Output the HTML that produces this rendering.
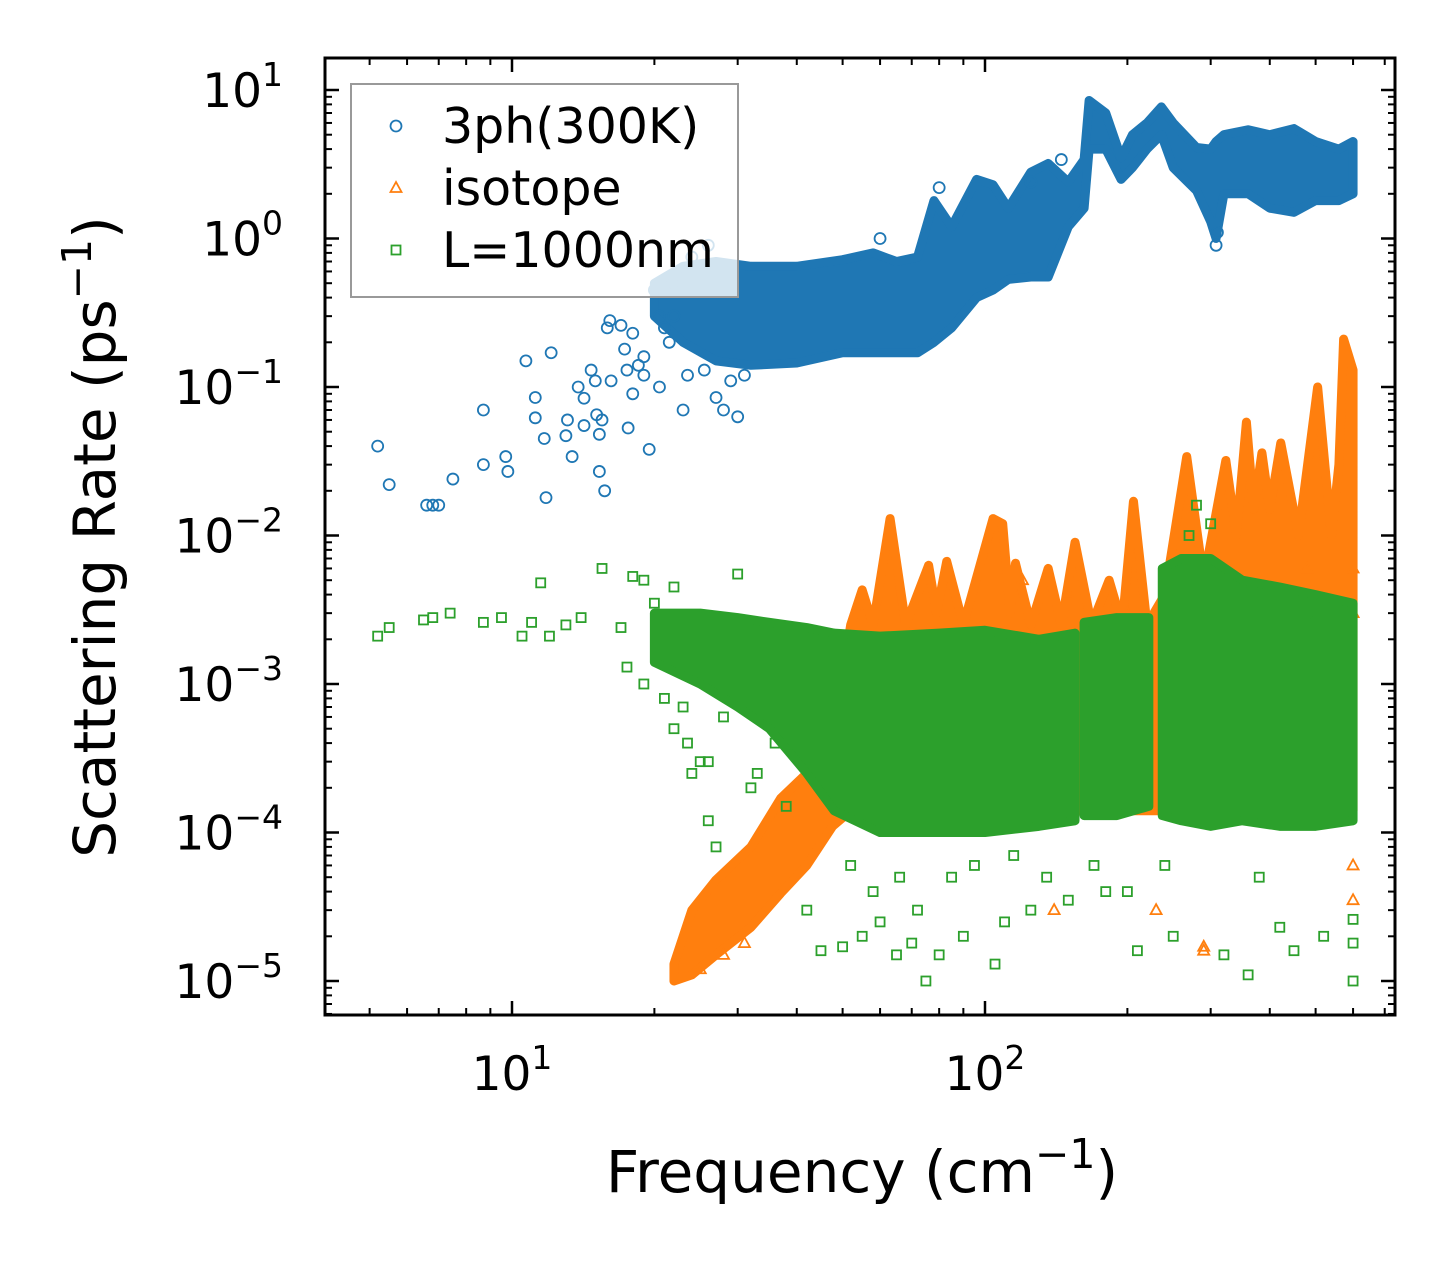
<!DOCTYPE html>
<html><head><meta charset="utf-8"><style>
body{margin:0;background:#fff}
svg text{font-family:"DejaVu Sans","Liberation Sans",sans-serif;fill:#000}
</style></head><body>
<svg id="chart" width="1455" height="1265" viewBox="0 0 1455 1265">
<rect width="1455" height="1265" fill="#fff"/>
<g id="marks"></g>
<g id="axes"></g>
<g id="legend"></g>
</svg>
<script>
// ---------- data ----------
const blueEnvFreq=[20,23,27,32,40,50,58,65,72,78,85,96,104,112,125,136,150,162,166,180,194,205,220,236,250,280,300,308,320,360,400,450,500,560,600];
const blueEnvLo=[0.3,0.2,0.15,0.14,0.145,0.17,0.17,0.17,0.17,0.2,0.25,0.4,0.45,0.53,0.55,0.55,1.2,1.6,4,4,2.5,3,4,5,3,2.1,1.3,1,2,2,1.6,1.5,1.8,1.8,2];
const blueEnvHi=[0.5,0.65,0.7,0.65,0.65,0.72,0.8,0.7,0.75,1.8,1.2,2.5,2.3,1.6,2.8,3.2,2.4,3.4,8.5,7,3.5,5,6,7.7,6,4.1,4,4.5,5,5.4,5,5.5,4.5,4,4.5];
const blueFreq=[5.2,5.5,6.6,6.8,7,7.5,8.7,8.7,9.7,9.8,10.7,11.2,11.2,11.7,11.8,12.1,13,13.1,13.4,13.8,14.2,14.2,14.7,15,15.1,15.3,15.3,15.5,15.7,15.9,16.1,16.2,17,17.3,17.6,18,18,19,19.5,20,20.5,21,22,23,27,28,30,22,24,26,19,18.5,21.5,23.5,25.5,29,31,20.5,17.5,308,310,60,80,125,145];
const blueRate=[0.04,0.022,0.016,0.016,0.016,0.024,0.07,0.03,0.034,0.027,0.15,0.085,0.062,0.045,0.018,0.17,0.047,0.06,0.034,0.1,0.084,0.055,0.13,0.11,0.065,0.048,0.027,0.06,0.02,0.25,0.28,0.11,0.26,0.18,0.053,0.23,0.09,0.12,0.038,0.45,0.1,0.25,0.3,0.07,0.085,0.07,0.063,0.5,0.75,0.9,0.16,0.14,0.2,0.12,0.13,0.11,0.12,0.3,0.13,0.9,1.1,1.0,2.2,2.4,3.4];
const orangeEnvFreq=[22,24,27,32,37,42,47.6,52,55,58,63,68,76,79,83,90,104,109,113,116,125,136,145,155,168,183,195,206,220,240,267,290,323,340,357,370,385,400,422,460,505,540,560,573,600];
const orangeEnvLo=[1e-5,1.1e-5,1.5e-5,2.3e-5,3.9e-5,6e-5,1.1e-4,1.4e-4,1.4e-4,1.4e-4,1.4e-4,1.4e-4,1.4e-4,1.4e-4,1.4e-4,1.4e-4,1.4e-4,1.4e-4,1.4e-4,1.4e-4,1.4e-4,1.4e-4,1.4e-4,1.4e-4,1.4e-4,1.4e-4,1.4e-4,1.4e-4,1.4e-4,1.4e-4,1.4e-4,1.4e-4,1.4e-4,1.4e-4,1.4e-4,1.4e-4,1.4e-4,1.4e-4,1.4e-4,1.4e-4,1.4e-4,1.4e-4,1.4e-4,1.4e-4,1.4e-4];
const orangeEnvHi=[1.3e-5,3e-5,4.8e-5,8e-5,1.7e-4,2.5e-4,4e-4,2.5e-3,4.3e-3,2.5e-3,1.3e-2,2.5e-3,6.3e-3,3e-3,6.7e-3,2.5e-3,1.3e-2,1.2e-2,3e-3,6.5e-3,2.5e-3,6e-3,2.5e-3,9e-3,2.5e-3,5e-3,2.5e-3,1.7e-2,2.5e-3,4e-3,3.4e-2,5e-3,3.2e-2,1e-2,5.8e-2,1.5e-2,3.6e-2,1.5e-2,4.2e-2,1e-2,1e-1,1e-2,3e-2,2.1e-1,1.3e-1];
const orangeFreq=[60,66,75,86,120,150,200,290,480,600,600,600,25,28,31,110,140,230,290,600];
const orangeRate=[2e-3,1.1e-3,1.2e-3,2e-3,5e-3,4e-3,3e-3,1.7e-5,6e-3,3e-3,6e-3,3.5e-5,1.2e-5,1.5e-5,1.8e-5,3e-4,3e-5,3e-5,1.6e-5,6e-5];
const greenEnvSeg=[0,0,0,0,0,0,0,0,0,0,0,1,1,1,2,2,2,2,2,2,2];
const greenEnvFreq=[20,25,30,35,42,48,60,80,100,130,155,162,190,222,237,260,300,350,420,500,600];
const greenEnvLo=[1.4e-3,1e-3,7e-4,5e-4,2.5e-4,1.4e-4,1e-4,1e-4,1e-4,1.1e-4,1.2e-4,1.3e-4,1.3e-4,1.5e-4,1.3e-4,1.2e-4,1.1e-4,1.2e-4,1.1e-4,1.1e-4,1.2e-4];
const greenEnvHi=[3e-3,3e-3,2.8e-3,2.6e-3,2.4e-3,2.2e-3,2.1e-3,2.2e-3,2.3e-3,2e-3,2.2e-3,2.6e-3,2.8e-3,2.8e-3,6e-3,7e-3,7e-3,5e-3,4.5e-3,4e-3,3.5e-3];
const greenFreq=[5.2,5.5,6.5,6.8,7.4,8.7,9.5,10.5,11,11.5,12,13,14,15.5,17,17.5,18,19,20,22,23,24,25,26,27,30,32,36,42,45,50,55,60,65,70,75,80,90,105,110,125,150,180,210,250,320,360,420,450,520,600,600,600,280,270,300,500,21,22,19,23.5,26,28,33,38,52,58,66,72,85,95,115,135,170,200,240,380];
const greenRate=[2.1e-3,2.4e-3,2.7e-3,2.8e-3,3e-3,2.6e-3,2.8e-3,2.1e-3,2.6e-3,4.8e-3,2.1e-3,2.5e-3,2.8e-3,6e-3,2.4e-3,1.3e-3,5.3e-3,5e-3,3.5e-3,4.5e-3,7e-4,2.5e-4,3e-4,1.2e-4,8e-5,5.5e-3,2e-4,4e-4,3e-5,1.6e-5,1.7e-5,2e-5,2.5e-5,1.5e-5,1.8e-5,1e-5,1.5e-5,2e-5,1.3e-5,2.5e-5,3e-5,3.5e-5,4e-5,1.6e-5,2e-5,1.5e-5,1.1e-5,2.3e-5,1.6e-5,2e-5,1.8e-5,1e-5,2.6e-5,1.6e-2,1e-2,1.2e-2,3e-3,8e-4,5e-4,1e-3,4e-4,3e-4,6e-4,2.5e-4,1.5e-4,6e-5,4e-5,5e-5,3e-5,5e-5,6e-5,7e-5,5e-5,6e-5,4e-5,6e-5,5e-5];
const xTickVals=[10,100];
const xTickExp=["1","2"];
const yTickExps=[1,0,-1,-2,-3,-4,-5];

// ---------- scales ----------
const X0=325,X1=1395,Y0=58,Y1=1015;
const xs=v=>512+473*(Math.log10(v)-1);
const ys=v=>90+148.5*(1-Math.log10(v));
const NS="http://www.w3.org/2000/svg";
function mk(tag,attrs,parent){const e=document.createElementNS(NS,tag);for(const k in attrs)e.setAttribute(k,attrs[k]);parent.appendChild(e);return e;}
const marks=document.getElementById('marks');
const axes=document.getElementById('axes');
const legend=document.getElementById('legend');

const clip=mk('clipPath',{id:'pc'},document.getElementById('chart'));
mk('rect',{x:X0,y:Y0,width:X1-X0,height:Y1-Y0},clip);
marks.setAttribute('clip-path','url(#pc)');

function envelope(f,lo,hi,color,name){
  let pts=f.map((v,i)=>xs(v)+','+ys(hi[i]));
  for(let i=f.length-1;i>=0;i--)pts.push(xs(f[i])+','+ys(lo[i]));
  const p=mk('polygon',{points:pts.join(' '),fill:color,stroke:color,'stroke-width':9,'stroke-linejoin':'round'},marks);
  
  
}
function circle(x,y,c,parent){return mk('circle',{cx:x,cy:y,r:5.5,fill:'none',stroke:c,'stroke-width':1.8},parent);}
function tri(x,y,c,parent){return mk('polygon',{points:`${x},${y-6} ${x-5.5},${y+4} ${x+5.5},${y+4}`,fill:'none',stroke:c,'stroke-width':1.8},parent);}
function sq(x,y,c,parent){return mk('rect',{x:x-4.5,y:y-4.5,width:9,height:9,fill:'none',stroke:c,'stroke-width':1.8},parent);}

const BLUE='#1f77b4',OR='#ff7f0e',GR='#2ca02c';
envelope(blueEnvFreq,blueEnvLo,blueEnvHi,BLUE,'3ph-dense-cloud');
blueFreq.forEach((f,i)=>{const e=circle(xs(f),ys(blueRate[i]),BLUE,marks);

});
envelope(orangeEnvFreq,orangeEnvLo,orangeEnvHi,OR,'isotope-dense-cloud');
orangeFreq.forEach((f,i)=>{const e=tri(xs(f),ys(orangeRate[i]),OR,marks);

});
[0,1,2].forEach(s=>{
  const idx=greenEnvSeg.map((g,i)=>g===s?i:-1).filter(i=>i>=0);
  envelope(idx.map(i=>greenEnvFreq[i]),idx.map(i=>greenEnvLo[i]),idx.map(i=>greenEnvHi[i]),GR,'boundary-dense-cloud');
});
greenFreq.forEach((f,i)=>{const e=sq(xs(f),ys(greenRate[i]),GR,marks);

});

// ---------- axes ----------
const frame=mk('rect',{x:X0,y:Y0,width:X1-X0,height:Y1-Y0,fill:'none',stroke:'#000','stroke-width':3},axes);


function line(x1,y1,x2,y2,w){mk('line',{x1,y1,x2,y2,stroke:'#000','stroke-width':w},axes);}
for(let d=0;d<=3;d++){for(let m=1;m<=9;m++){const v=m*Math.pow(10,d);const x=xs(v);if(x<X0||x>X1)continue;
 const L=m===1?14:7,w=m===1?2.5:2;line(x,Y1,x,Y1-L,w);line(x,Y0,x,Y0+L,w);}}
xTickVals.forEach((v,i)=>{const t=mk('text',{x:xs(v),y:1090,'font-size':47,'text-anchor':'middle'},axes);
t.textContent='10';const s=mk('tspan',{dy:-21,'font-size':33},t);s.textContent=xTickExp[i];

});
for(let d=-6;d<=1;d++){for(let m=1;m<=9;m++){const v=m*Math.pow(10,d);const y=ys(v);if(y<Y0||y>Y1)continue;
 const L=m===1?14:7,w=m===1?2.5:2;line(X0,y,X0+L,y,w);line(X1,y,X1-L,y,w);}}
yTickExps.forEach(e=>{const y=ys(Math.pow(10,e));const t=mk('text',{x:283,y:y+17,'font-size':47,'text-anchor':'end'},axes);
t.textContent='10';const s=mk('tspan',{dy:-21,'font-size':33},t);s.textContent=e<0?'\u2212'+(-e):String(e);

});
const xt=mk('text',{x:862,y:1192,'font-size':58,'text-anchor':'middle'},axes);
xt.innerHTML='Frequency (cm<tspan dy="-24" font-size="41">\u22121</tspan><tspan dy="24">)</tspan>';


const yt=mk('text',{x:0,y:0,'font-size':58,'text-anchor':'middle',transform:'translate(115,537) rotate(-90)'},axes);
yt.innerHTML='Scattering Rate (ps<tspan dy="-24" font-size="41">\u22121</tspan><tspan dy="24">)</tspan>';



// ---------- legend ----------
const lb=mk('rect',{x:351,y:84,width:387,height:213,fill:'#fff','fill-opacity':0.8,stroke:'#999','stroke-width':2},legend);


const labels=['3ph(300K)','isotope','L=1000nm'];
const fns=[circle,tri,sq],cols=[BLUE,OR,GR];
labels.forEach((l,i)=>{const y=126+i*62;
 const g=mk('g',{},legend);
 
 
 fns[i](396,y,cols[i],g);
 const t=mk('text',{x:442,y:y+17,'font-size':49},g);t.textContent=l;});
</script>
</body></html>
